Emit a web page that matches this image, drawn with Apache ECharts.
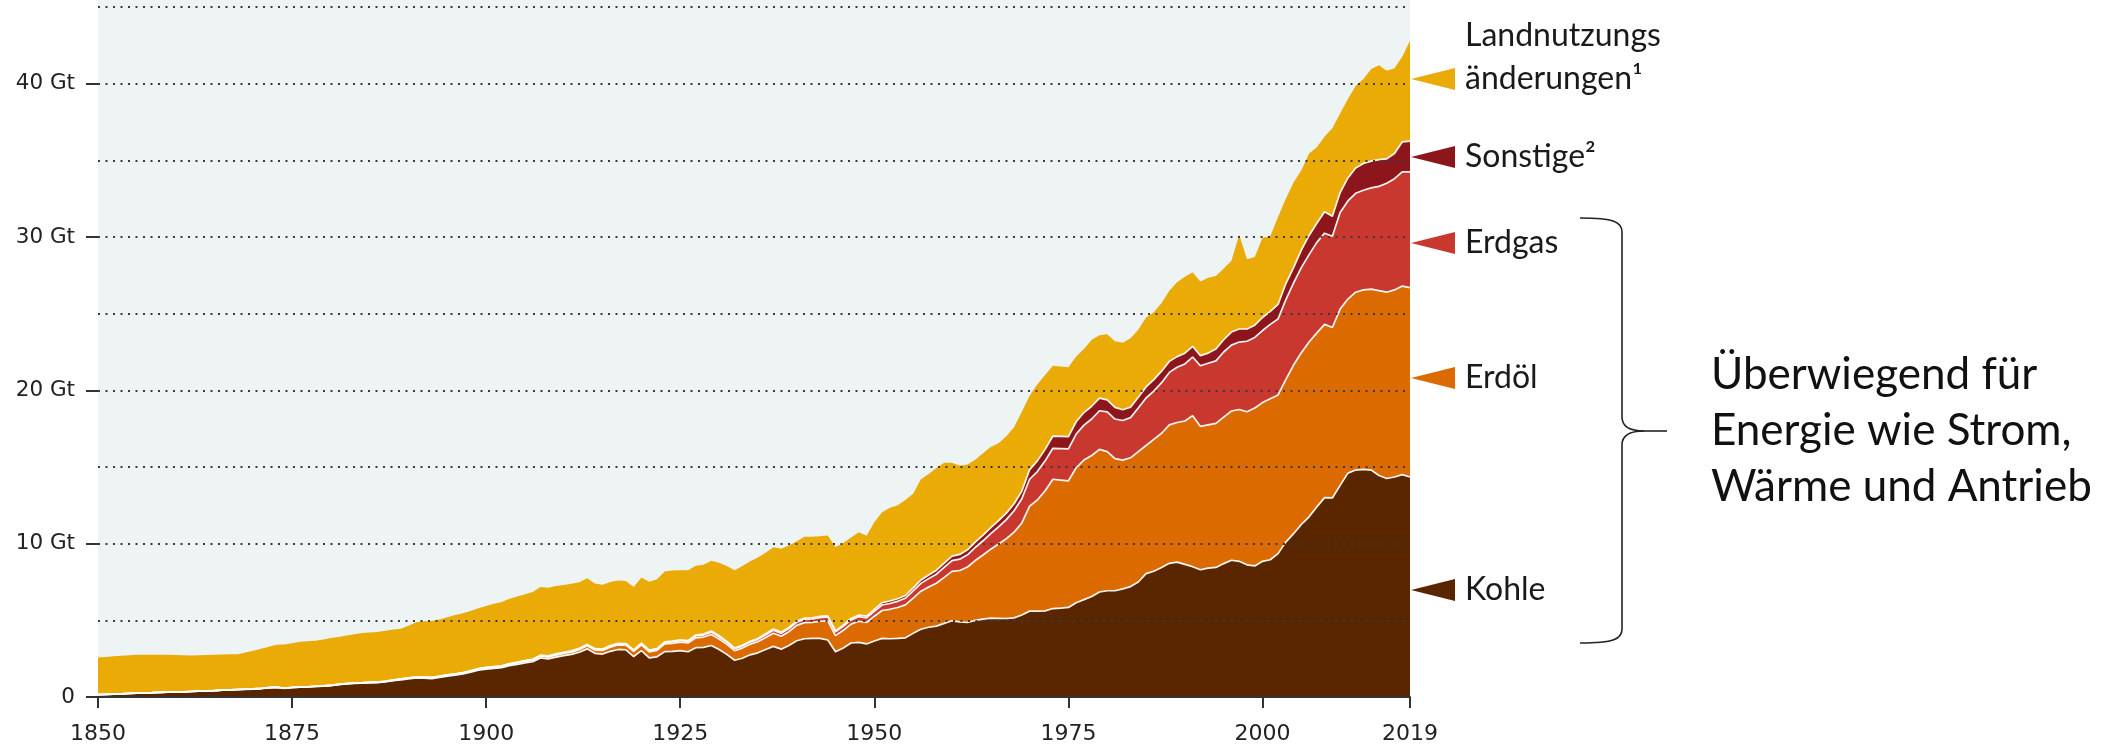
<!DOCTYPE html>
<html>
<head>
<meta charset="utf-8">
<script src="https://cdn.jsdelivr.net/npm/echarts@6/dist/echarts.min.js"></script>
<style>
html,body{margin:0;padding:0;background:#fff;}
#c{width:2113px;height:745px;}
</style>
</head>
<body>
<div id="c"></div>
<script>
// Years 1850..2019 (one value per year), CO2 emissions in Gt
var firstYear = 1850, lastYear = 2019;

var kohle = [
0.15,0.17,0.19,0.21,0.23,0.25,0.27,0.28,0.30,0.31,
0.33,0.34,0.36,0.38,0.40,0.42,0.44,0.46,0.48,0.50,
0.52,0.55,0.60,0.63,0.56,0.62,0.64,0.66,0.68,0.70,
0.74,0.80,0.85,0.89,0.91,0.92,0.93,0.98,1.06,1.12,
1.18,1.24,1.23,1.20,1.28,1.36,1.42,1.50,1.62,1.75,
1.82,1.87,1.91,2.05,2.12,2.22,2.30,2.55,2.48,2.60,
2.70,2.78,2.92,3.14,2.85,2.80,2.98,3.10,3.08,2.64,
3.02,2.55,2.62,2.96,2.98,3.02,2.95,3.22,3.24,3.36,
3.10,2.78,2.40,2.53,2.75,2.88,3.10,3.30,3.12,3.36,
3.67,3.80,3.82,3.82,3.72,2.95,3.20,3.52,3.56,3.46,
3.65,3.82,3.80,3.82,3.86,4.15,4.42,4.55,4.62,4.80,
4.97,4.90,4.86,5.00,5.08,5.14,5.13,5.12,5.16,5.35,
5.60,5.60,5.62,5.77,5.80,5.84,6.15,6.35,6.55,6.85,
6.93,6.93,7.05,7.20,7.50,8.05,8.20,8.45,8.72,8.80,
8.65,8.50,8.30,8.40,8.45,8.70,8.92,8.85,8.62,8.55,
8.85,8.95,9.35,10.10,10.65,11.25,11.75,12.40,13.00,12.98,
13.80,14.60,14.80,14.85,14.80,14.45,14.25,14.35,14.50,14.35
];

var erdoel = [
0,0,0,0,0,0,0,0,0,0,
0,0,0,0,0,0,0.01,0.01,0.01,0.01,
0.01,0.01,0.01,0.01,0.01,0.01,0.01,0.01,0.02,0.02,
0.02,0.02,0.02,0.02,0.02,0.03,0.03,0.03,0.03,0.04,
0.05,0.05,0.05,0.05,0.05,0.06,0.06,0.06,0.06,0.06,
0.06,0.07,0.07,0.08,0.09,0.10,0.10,0.11,0.12,0.13,
0.14,0.15,0.17,0.20,0.21,0.24,0.27,0.30,0.30,0.33,
0.38,0.39,0.42,0.50,0.52,0.55,0.57,0.64,0.67,0.72,
0.68,0.65,0.62,0.66,0.69,0.73,0.78,0.86,0.84,0.90,
1.00,1.05,1.05,1.12,1.25,1.05,1.15,1.23,1.38,1.40,
1.62,1.82,1.92,2.02,2.15,2.30,2.48,2.62,2.80,3.00,
3.22,3.35,3.62,3.90,4.18,4.50,4.85,5.20,5.59,6.00,
6.85,7.25,7.83,8.43,8.35,8.26,8.80,9.10,9.20,9.30,
9.07,8.62,8.40,8.40,8.50,8.35,8.60,8.75,9.03,9.10,
9.35,9.85,9.35,9.35,9.40,9.55,9.73,9.90,9.98,10.30,
10.35,10.50,10.35,10.60,11.00,11.20,11.40,11.35,11.30,11.12,
11.50,11.35,11.60,11.70,11.80,12.05,12.15,12.20,12.30,12.35
];

var erdgas = [
0,0,0,0,0,0,0,0,0,0,
0,0,0,0,0,0,0,0,0,0,
0,0,0,0,0,0,0,0,0,0,
0,0,0,0,0,0.01,0.01,0.01,0.01,0.01,
0.01,0.01,0.01,0.02,0.02,0.02,0.02,0.02,0.02,0.03,
0.03,0.03,0.03,0.03,0.04,0.04,0.04,0.04,0.05,0.05,
0.05,0.05,0.06,0.06,0.06,0.06,0.07,0.07,0.07,0.07,
0.08,0.08,0.08,0.09,0.10,0.10,0.11,0.12,0.13,0.15,
0.15,0.14,0.13,0.13,0.14,0.15,0.17,0.19,0.19,0.20,
0.20,0.21,0.22,0.24,0.25,0.25,0.26,0.28,0.30,0.30,
0.32,0.36,0.38,0.40,0.43,0.47,0.51,0.55,0.59,0.65,
0.70,0.74,0.79,0.85,0.93,1.02,1.12,1.25,1.40,1.58,
1.75,1.85,1.95,2.02,2.05,2.08,2.20,2.28,2.38,2.52,
2.60,2.58,2.58,2.62,2.85,3.10,3.15,3.30,3.42,3.60,
3.72,3.82,3.95,4.02,4.07,4.25,4.30,4.40,4.60,4.60,
4.70,4.85,4.95,5.20,5.35,5.55,5.70,5.90,5.95,5.95,
6.30,6.40,6.45,6.50,6.60,6.80,7.10,7.25,7.45,7.55
];

var sonstige = [
0,0,0,0,0,0,0,0,0,0,
0,0,0,0,0,0,0,0,0,0,
0,0,0,0,0,0,0,0,0,0,
0.01,0.01,0.01,0.01,0.01,0.01,0.01,0.01,0.01,0.01,
0.01,0.01,0.01,0.01,0.01,0.01,0.01,0.01,0.01,0.01,
0.02,0.02,0.02,0.02,0.02,0.02,0.02,0.03,0.03,0.03,
0.03,0.03,0.03,0.03,0.03,0.03,0.03,0.03,0.03,0.03,
0.04,0.04,0.04,0.04,0.04,0.05,0.05,0.06,0.06,0.07,
0.07,0.06,0.05,0.05,0.06,0.06,0.07,0.08,0.08,0.08,
0.08,0.08,0.08,0.08,0.07,0.06,0.08,0.09,0.10,0.11,
0.13,0.15,0.16,0.17,0.18,0.20,0.22,0.24,0.26,0.28,
0.30,0.31,0.33,0.35,0.37,0.38,0.40,0.42,0.45,0.50,
0.62,0.70,0.75,0.80,0.80,0.80,0.80,0.82,0.83,0.82,
0.78,0.76,0.70,0.68,0.70,0.72,0.75,0.75,0.72,0.70,
0.70,0.70,0.66,0.66,0.78,0.80,0.85,0.85,0.80,0.80,
0.85,0.85,0.95,1.05,1.00,1.15,1.25,1.25,1.40,1.30,
1.30,1.50,1.65,1.75,1.75,1.75,1.60,1.65,1.95,2.00
];

var landnutzung = [
2.42,2.44,2.46,2.48,2.49,2.51,2.49,2.48,2.46,2.44,
2.41,2.38,2.34,2.34,2.34,2.34,2.32,2.31,2.30,2.39,
2.49,2.59,2.67,2.76,2.85,2.87,2.95,2.96,2.97,3.03,
3.07,3.09,3.13,3.18,3.24,3.24,3.26,3.29,3.30,3.27,
3.40,3.57,3.64,3.68,3.70,3.75,3.84,3.88,3.90,3.94,
4.00,4.09,4.17,4.22,4.28,4.32,4.39,4.44,4.44,4.43,
4.38,4.37,4.30,4.32,4.25,4.19,4.15,4.10,4.08,4.11,
4.28,4.46,4.52,4.59,4.61,4.54,4.58,4.52,4.52,4.58,
4.75,4.92,5.06,5.18,5.21,5.28,5.28,5.33,5.44,5.34,
5.20,5.31,5.28,5.22,5.25,5.47,5.36,5.28,5.41,5.25,
5.68,5.90,6.09,6.09,6.23,6.13,6.57,6.59,6.66,6.55,
6.08,5.78,5.56,5.38,5.34,5.26,5.05,5.01,5.00,5.17,
4.83,5.00,4.85,4.58,4.55,4.52,4.25,4.15,4.34,4.11,
4.27,4.31,4.37,4.50,4.40,4.53,4.40,4.45,4.61,4.85,
4.98,4.83,4.84,4.92,4.75,4.65,4.65,6.15,4.55,4.45,
5.20,4.90,5.70,5.55,5.55,5.20,5.35,4.95,4.90,5.75,
5.15,5.15,5.35,5.50,6.00,6.15,5.75,5.55,5.55,6.55
];

var xTickYears = [1850, 1875, 1900, 1925, 1950, 1975, 2000, 2019];
var yTickValues = [0, 10, 20, 30, 40];

// bottom-to-top order of the stack
var seriesDefs = [
  {name: 'Kohle', data: kohle, color: '#5a2600'},
  {name: 'Erdöl', data: erdoel, color: '#db6a00'},
  {name: 'Erdgas', data: erdgas, color: '#c8382e'},
  {name: 'Sonstige', data: sonstige, color: '#8c161b'},
  {name: 'Landnutzungsänderungen', data: landnutzung, color: '#ebab07'}
];

// cumulative tops (stacking done here, drawn back-to-front)
var running = kohle.map(function () { return 0; });
var cumul = seriesDefs.map(function (d) {
  var out = [];
  for (var i = 0; i < d.data.length; i++) {
    running[i] += d.data[i];
    out.push([firstYear + i, Math.round(running[i] * 1000) / 1000]);
  }
  return out;
});

var series = [];
for (var k = seriesDefs.length - 1; k >= 0; k--) {
  var d = seriesDefs[k];
  var isTop = k === seriesDefs.length - 1;
  series.push({
    name: d.name,
    type: 'line',
    yAxisIndex: 0,
    symbol: 'none',
    silent: true,
    data: cumul[k],
    itemStyle: {color: d.color},
    lineStyle: isTop ? {width: 0, opacity: 0} : {color: '#ffffff', width: 1.7, opacity: 0.95},
    areaStyle: {color: d.color, opacity: 1, origin: 'start'}
  });
}

var chart = echarts.init(document.getElementById('c'), null, {renderer: 'canvas'});

var gridLeft = 98, gridTop = 7, gridRight = 703, gridBottom = 47;

// label / arrow annotation positions (pixel layout only)
var annot = [
  {y: 590, color: '#5a2600', text: 'Kohle'},
  {y: 378, color: '#db6a00', text: 'Erdöl'},
  {y: 243, color: '#c8382e', text: 'Erdgas'},
  {y: 157, color: '#8c161b', text: 'Sonstige²'},
  {y: 79, color: '#ebab07', text: 'änderungen¹'}
];

var graphics = [
  {type: 'rect', shape: {x: 98, y: 0, width: 1312, height: 8}, style: {fill: '#eef3f4'}, z: -10, silent: true}
];
annot.forEach(function (a) {
  graphics.push({type: 'polygon', shape: {points: [[1411, a.y], [1455, a.y - 11], [1455, a.y + 11]]}, style: {fill: a.color}, silent: true});
  graphics.push({type: 'text', x: 1465, y: a.y, style: {text: a.text, font: '32px Lato', fill: '#1a1a1a', textVerticalAlign: 'middle', textBaseline: 'middle'}, silent: true});
});
graphics.push({type: 'text', x: 1465, y: 36, style: {text: 'Landnutzungs', font: '32px Lato', fill: '#1a1a1a', textVerticalAlign: 'middle', textBaseline: 'middle'}, silent: true});

// brace
var bx = 1622, bTop = 218, bBot = 643, bMid = 431, bEnd = 1580, bTip = 1667;
var braceStyle = {stroke: '#222', lineWidth: 1.6, fill: null};
graphics.push({type: 'bezierCurve', shape: {x1: bEnd, y1: bTop, x2: bx, y2: bTop + 14, cpx1: bx - 8, cpy1: bTop, cpx2: bx, cpy2: bTop + 4}, style: braceStyle, silent: true});
graphics.push({type: 'line', shape: {x1: bx, y1: bTop + 14, x2: bx, y2: bMid - 14}, style: braceStyle, silent: true});
graphics.push({type: 'bezierCurve', shape: {x1: bx, y1: bMid - 14, x2: bx + 22, y2: bMid, cpx1: bx, cpy1: bMid - 4, cpx2: bx + 8, cpy2: bMid}, style: braceStyle, silent: true});
graphics.push({type: 'line', shape: {x1: bx + 22, y1: bMid, x2: bTip, y2: bMid}, style: braceStyle, silent: true});
graphics.push({type: 'bezierCurve', shape: {x1: bx + 22, y1: bMid, x2: bx, y2: bMid + 14, cpx1: bx + 8, cpy1: bMid, cpx2: bx, cpy2: bMid + 4}, style: braceStyle, silent: true});
graphics.push({type: 'line', shape: {x1: bx, y1: bMid + 14, x2: bx, y2: bBot - 14}, style: braceStyle, silent: true});
graphics.push({type: 'bezierCurve', shape: {x1: bx, y1: bBot - 14, x2: bEnd, y2: bBot, cpx1: bx, cpy1: bBot - 4, cpx2: bx - 8, cpy2: bBot}, style: braceStyle, silent: true});

graphics.push({type: 'text', x: 1711, y: 431, style: {text: 'Überwiegend für\nEnergie wie Strom,\nWärme und Antrieb', font: '44px Lato', lineHeight: 56, fill: '#111', textVerticalAlign: 'middle', textBaseline: 'middle'}, silent: true});

chart.setOption({
  animation: false,
  backgroundColor: '#ffffff',
  grid: {left: gridLeft, right: gridRight, top: gridTop, bottom: gridBottom, show: true, backgroundColor: '#eef3f4', borderWidth: 0},
  xAxis: {
    type: 'value', min: firstYear, max: lastYear, z: 12,
    splitLine: {show: false},
    axisLine: {show: true, lineStyle: {color: '#333', width: 2}},
    axisTick: {show: true, customValues: xTickYears, length: 11, lineStyle: {color: '#333', width: 2}},
    axisLabel: {customValues: xTickYears, margin: 26, fontSize: 22, fontFamily: 'DejaVu Sans', color: '#222', formatter: function (v) { return String(v); }}
  },
  yAxis: [
    {
      type: 'value', min: 0, max: 45, interval: 5, z: 10,
      axisLine: {show: false}, axisTick: {show: false}, axisLabel: {show: false},
      splitLine: {show: true, lineStyle: {color: '#3a3a3a', width: 2, type: [2, 5.5]}}
    },
    {
      type: 'value', min: 0, max: 45, interval: 10, position: 'left', z: 11,
      axisLine: {show: false},
      splitLine: {show: false},
      axisTick: {show: true, customValues: yTickValues, length: 12, lineStyle: {color: '#333', width: 2}},
      axisLabel: {customValues: yTickValues, margin: 23, fontSize: 21.5, fontFamily: 'DejaVu Sans', color: '#222', formatter: function (v) { return v === 0 ? '0' : v + ' Gt'; }}
    }
  ],
  series: series,
  graphic: graphics
});
</script>
</body>
</html>
